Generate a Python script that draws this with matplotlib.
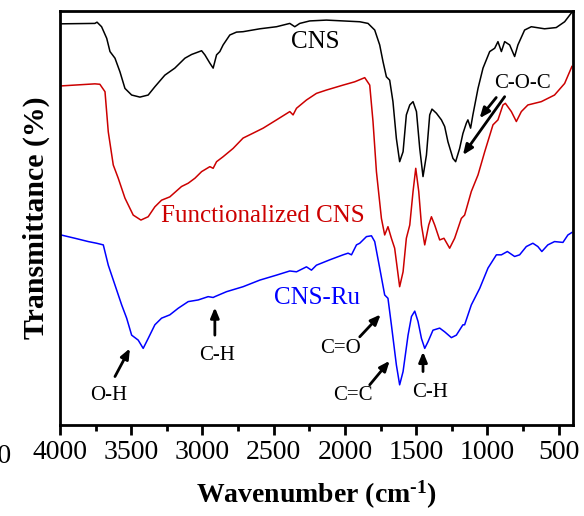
import numpy as np
import matplotlib
matplotlib.use('Agg')
import matplotlib.pyplot as plt
from matplotlib.ticker import MultipleLocator
import matplotlib.transforms as mtransforms

plt.rcParams['font.family'] = ['Liberation Serif', 'DejaVu Serif']
plt.rcParams['mathtext.fontset'] = 'custom'
plt.rcParams['mathtext.rm'] = 'Liberation Serif:bold'
plt.rcParams['mathtext.bf'] = 'Liberation Serif:bold'
plt.rcParams['mathtext.default'] = 'bf'

# FTIR spectra (wavenumber in cm-1, transmittance in arb. units)
cns_wn = [3993, 3755, 3740, 3708, 3672, 3649, 3614, 3579, 3544, 3497, 3439, 3381, 3334,
          3264, 3194, 3123, 3076, 3006, 2983, 2948, 2925, 2901, 2878, 2855, 2808, 2761,
          2715, 2597, 2480, 2387, 2352, 2317, 2247, 2130, 2013, 1896, 1838, 1791, 1756,
          1733, 1709, 1686, 1663, 1639, 1616, 1592, 1569, 1545, 1522, 1498, 1475, 1452,
          1428, 1405, 1389, 1358, 1323, 1300, 1277, 1242, 1223, 1195, 1172, 1148, 1137,
          1118, 1102, 1066, 1031, 984, 949, 926, 902, 879, 844, 809, 786, 739, 692, 599,
          517, 458, 407]
cns_t = [96.9, 97.0, 97.3, 96.2, 93.4, 90.2, 88.6, 85.3, 81.3, 79.7, 79.2, 79.7, 81.7,
         84.5, 86.2, 88.6, 89.5, 90.4, 89.4, 87.4, 86.2, 89.4, 90.2, 91.8, 94.2, 94.9,
         95.0, 95.7, 96.2, 97.0, 96.2, 97.0, 97.6, 97.8, 97.6, 97.4, 97.0, 95.4, 91.8,
         87.8, 84.1, 83.3, 78.1, 69.2, 63.6, 66.0, 74.9, 77.3, 78.1, 75.7, 66.8, 60.0,
         65.2, 74.9, 76.3, 75.3, 73.7, 72.1, 68.4, 64.4, 63.6, 66.8, 70.4, 72.9, 73.7,
         71.7, 74.9, 81.3, 86.2, 90.2, 91.0, 92.6, 90.2, 92.6, 91.8, 89.0, 91.8, 95.4,
         96.2, 95.7, 96.0, 97.4, 99.7]

fcns_wn = [3993, 3755, 3720, 3684, 3661, 3626, 3591, 3544, 3486, 3432, 3381, 3334, 3287,
           3229, 3147, 3100, 3053, 3006, 2948, 2925, 2901, 2855, 2785, 2715, 2644, 2574,
           2480, 2387, 2364, 2340, 2270, 2200, 2130, 2013, 1931, 1861, 1826, 1803, 1779,
           1744, 1721, 1698, 1674, 1651, 1616, 1592, 1569, 1545, 1522, 1503, 1482, 1463,
           1440, 1412, 1393, 1370, 1335, 1305, 1265, 1230, 1183, 1160, 1113, 1066, 1019,
           961, 926, 891, 874, 832, 797, 762, 716, 622, 529, 458, 407]
fcns_t = [81.9, 82.4, 82.3, 80.5, 70.8, 62.8, 59.6, 54.8, 50.7, 49.5, 50.3, 52.7, 54.3,
          55.1, 57.6, 58.4, 59.6, 61.2, 62.4, 62.0, 63.6, 64.8, 66.8, 69.3, 70.5, 71.7,
          73.7, 75.7, 74.9, 76.5, 78.5, 80.1, 80.9, 82.1, 82.9, 83.9, 82.1, 73.3, 61.2,
          49.9, 45.9, 47.9, 45.1, 42.7, 33.4, 37.0, 45.1, 48.3, 56.4, 62.0, 56.4, 48.3,
          43.5, 48.3, 50.3, 48.3, 44.7, 45.1, 42.7, 45.1, 49.9, 50.7, 56.4, 60.4, 66.0,
          72.5, 73.7, 77.3, 77.7, 75.7, 73.3, 75.7, 77.3, 78.1, 79.7, 82.5, 86.6]

ru_wn = [3993, 3895, 3801, 3743, 3696, 3661, 3614, 3567, 3532, 3497, 3451, 3416, 3381,
         3334, 3287, 3229, 3170, 3100, 3030, 2960, 2925, 2913, 2831, 2715, 2597, 2480,
         2387, 2340, 2270, 2235, 2200, 2106, 2013, 1978, 1954, 1919, 1896, 1849, 1814,
         1791, 1756, 1721, 1698, 1674, 1639, 1616, 1592, 1557, 1533, 1510, 1487, 1463,
         1440, 1417, 1382, 1335, 1300, 1253, 1218, 1172, 1160, 1113, 1054, 996, 937, 902,
         860, 809, 774, 727, 681, 646, 618, 576, 529, 470, 435, 407]
ru_t = [45.9, 45.1, 44.3, 43.9, 43.5, 38.6, 33.8, 29.0, 25.8, 21.7, 20.5, 18.5, 20.9,
        24.2, 25.8, 26.6, 28.2, 29.8, 30.2, 31.0, 30.8, 31.0, 32.2, 33.4, 35.0, 36.2,
        37.2, 37.0, 38.2, 37.4, 38.6, 39.9, 41.1, 41.5, 41.1, 43.5, 43.9, 45.5, 45.7,
        44.3, 37.9, 31.4, 30.6, 24.2, 14.5, 9.7, 12.9, 21.7, 26.2, 27.5, 25.0, 20.9,
        18.5, 20.1, 22.9, 23.4, 22.5, 21.1, 21.7, 24.2, 24.2, 29.0, 33.0, 37.9, 41.1,
        41.1, 41.9, 40.7, 41.1, 43.1, 43.9, 43.1, 41.9, 43.5, 44.3, 44.1, 45.9, 46.5]

fig = plt.figure(figsize=(5.84, 5.16), dpi=100)
ax = fig.add_axes([0.1027, 0.1764, 0.8783, 0.8023])

ax.plot(cns_wn, cns_t, color='black', lw=1.1)
ax.plot(fcns_wn, fcns_t, color='#cc0000', lw=1.1)
ax.plot(ru_wn, ru_t, color='#0000ff', lw=1.1)

ax.set_xlim(4000, 400)
ax.set_ylim(0, 100)
ax.xaxis.set_major_locator(MultipleLocator(500))
ax.xaxis.set_minor_locator(MultipleLocator(250))
ax.set_yticks([])
ax.tick_params(axis='x', which='major', direction='out', length=7, width=2,
               labelsize=20, pad=4)
ax.tick_params(axis='x', which='minor', direction='out', length=4, width=2)
for s in ax.spines.values():
    s.set_linewidth(2)

# cut-off tick label at the left edge of the original figure
trans = mtransforms.blended_transform_factory(ax.transData, ax.transAxes)
ax.text(4530, -0.075, '4500', transform=trans, ha='center', va='center',
        fontsize=20, clip_on=False)

ax.set_xlabel(r'Wavenumber (cm$^{\text{-}1}$)', fontsize=20, fontweight='bold', labelpad=10)
ax.set_ylabel('Transmittance (%)', fontsize=21.5, fontweight='bold', labelpad=7)

# sample labels
ax.text(2205, 92.5, 'CNS', color='black', fontsize=18, ha='center', va='center')
ax.text(2576, 50.5, 'Functionalized CNS', color='#cc0000', fontsize=18,
        ha='center', va='center')
ax.text(2198, 30.7, 'CNS-Ru', color='#0000ff', fontsize=18, ha='center', va='center')

# band assignments
arrow = dict(arrowstyle='-|>,head_length=0.6,head_width=0.25', color='black',
             lw=2, shrinkA=0, shrinkB=0)
ax.annotate('', xy=(3509, 18.5), xytext=(3614, 11.7), arrowprops=arrow)
ax.text(3656, 7.2, 'O-H', fontsize=15, ha='center', va='center')
ax.annotate('', xy=(2913, 28.4), xytext=(2913, 21.7), arrowprops=arrow)
ax.text(2899, 16.7, 'C-H', fontsize=15, ha='center', va='center')
ax.annotate('', xy=(1749, 26.7), xytext=(1896, 21.3), arrowprops=arrow)
ax.text(2029, 18.4, 'C=O', fontsize=15, ha='center', va='center')
ax.annotate('', xy=(1686, 15.5), xytext=(1826, 9.7), arrowprops=arrow)
ax.text(1945, 7.1, 'C=C', fontsize=15, ha='center', va='center')
ax.annotate('', xy=(1452, 17.7), xytext=(1452, 12.9), arrowprops=arrow)
ax.text(1405, 7.9, 'C-H', fontsize=15, ha='center', va='center')
ax.annotate('', xy=(1055, 74.1), xytext=(938, 79.1), arrowprops=arrow)
ax.annotate('', xy=(1172, 65.2), xytext=(879, 79.3), arrowprops=arrow)
ax.text(753, 82.5, 'C-O-C', fontsize=15, ha='center', va='center')

fig.savefig('out.png', dpi=100)
